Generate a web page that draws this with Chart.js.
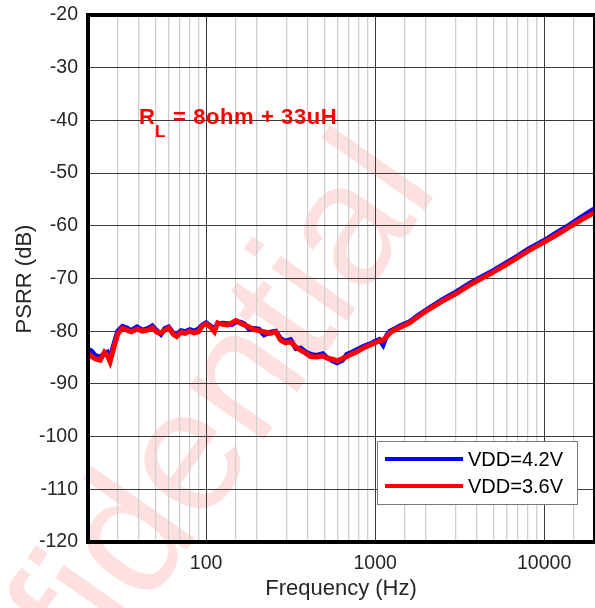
<!DOCTYPE html>
<html>
<head>
<meta charset="utf-8">
<script src="https://cdn.jsdelivr.net/npm/chart.js@4"></script>
<style>
  html, body { margin: 0; padding: 0; background: #fff; }
  #wrap { width: 595px; height: 608px; }
</style>
</head>
<body>
<div id="wrap"><canvas id="psrr" width="595" height="608"></canvas></div>
<script>
// ── 資料 ──────────────────────────────
const FREQ_HZ = [
  20, 21, 22, 23.6, 25, 26, 27, 28.5, 30, 32, 34, 36, 39, 42, 45, 48, 51, 54, 57, 60,
  64, 67, 71, 75, 80, 85, 90, 95, 100, 106, 112, 117, 125, 134, 142, 150, 160, 168, 180, 192,
  205, 220, 241, 258, 276, 295, 316, 340, 362, 390, 415, 450, 490, 520, 560, 596, 640, 681, 730, 780,
  850, 935, 1000, 1060, 1114, 1170, 1225, 1300, 1400, 1600, 1800, 2023, 2500, 3034, 3600, 4150, 5000, 6000, 7000, 8000,
  10000, 12000, 14000, 16500, 20000
];

const PSRR_VDD42 = [
  -83.4, -83.8, -84.6, -84.9, -84.3, -84.0, -85.2, -82.4, -80.0, -79.1, -79.4, -79.9, -79.2, -79.8, -79.5, -79.0, -79.9, -80.6, -79.5, -79.2,
  -80.4, -80.6, -79.9, -80.1, -79.7, -80.0, -79.6, -78.8, -78.4, -79.0, -79.6, -78.6, -78.5, -78.6, -78.7, -78.2, -78.3, -78.6, -79.6, -79.5,
  -79.6, -80.7, -80.2, -80.0, -81.4, -81.9, -81.6, -83.3, -83.2, -84.0, -84.4, -84.6, -84.3, -85.0, -85.6, -86.0, -85.5, -84.4, -84.0, -83.5,
  -82.9, -82.4, -81.9, -81.6, -82.6, -80.8, -80.0, -79.6, -79.0, -78.2, -77.0, -75.9, -74.0, -72.5, -71.0, -69.9, -68.5, -67.0, -65.7, -64.5,
  -62.8, -61.2, -59.9, -58.4, -56.7
];

const PSRR_VDD36 = [
  -84.2, -84.8, -85.2, -85.5, -84.0, -84.6, -85.8, -83.0, -80.5, -79.4, -79.8, -80.1, -79.6, -80.0, -79.8, -79.3, -80.2, -80.3, -79.8, -79.4,
  -80.6, -81.0, -80.2, -80.4, -80.0, -80.3, -80.1, -79.0, -78.6, -79.2, -80.1, -78.4, -78.7, -78.8, -78.4, -78.0, -78.5, -78.8, -79.2, -79.7,
  -79.9, -80.1, -80.4, -80.1, -81.7, -82.2, -82.0, -83.0, -83.6, -84.2, -84.8, -84.9, -84.7, -85.1, -85.3, -85.6, -85.2, -84.8, -84.3, -83.9,
  -83.2, -82.6, -82.2, -81.8, -81.7, -81.0, -80.3, -79.8, -79.3, -78.4, -77.2, -76.1, -74.3, -72.8, -71.3, -70.2, -68.8, -67.3, -66.0, -64.8,
  -63.1, -61.6, -60.3, -58.9, -57.4
];

const SERIES_LABELS = ["VDD=4.2V", "VDD=3.6V"];
const X_TICK_LABELS = [100, 1000, 10000];
const Y_TICKS = [-120, -110, -100, -90, -80, -70, -60, -50, -40, -30, -20];

const COLORS = {
  blue: "#0000FF",
  red: "#FF0000",
  major: "#3a3a3a",
  minor: "#cfcfcf",
};

const FONT = "Arial, 'Liberation Sans', sans-serif";

const isDecade = v => {
  const l = Math.log10(v);
  return Math.abs(l - Math.round(l)) < 1e-9;
};

const noPad = s => {
  s.paddingLeft = 0;
  s.paddingRight = 0;
  s.paddingTop = 0;
  s.paddingBottom = 0;
};

// ── 外框、標題、註解、圖例、浮水印 ──────────────
const decorPlugin = {
  id: "decor",
  beforeDraw(chart) {
    const { ctx } = chart;
    ctx.save();
    ctx.fillStyle = "#fff";
    ctx.fillRect(0, 0, chart.width, chart.height);
    // 浮水印
    ctx.translate(440, 188);
    ctx.rotate(-55 * Math.PI / 180);
    ctx.font = "174px " + FONT;
    ctx.fillStyle = "rgba(255, 0, 0, 0.12)";
    ctx.textAlign = "right";
    ctx.textBaseline = "alphabetic";
    ctx.fillText("Confidential", 0, 0);
    ctx.restore();
  },
  afterDraw(chart) {
    const { ctx, chartArea: a } = chart;
    ctx.save();

    // 外框
    ctx.strokeStyle = "#000";
    ctx.lineWidth = 4;
    ctx.strokeRect(a.left, a.top, a.right - a.left, a.bottom - a.top);

    // 軸標題
    ctx.fillStyle = "#262626";
    ctx.font = "22px " + FONT;
    ctx.textAlign = "center";
    ctx.textBaseline = "middle";
    ctx.fillText("Frequency (Hz)", 341, 589);
    ctx.save();
    ctx.translate(25, 279);
    ctx.rotate(-Math.PI / 2);
    ctx.fillText("PSRR (dB)", 0, 0);
    ctx.restore();

    // 註解 R_L
    ctx.fillStyle = COLORS.red;
    ctx.textAlign = "left";
    ctx.textBaseline = "alphabetic";
    ctx.letterSpacing = "0.6px";
    ctx.font = "bold 22px " + FONT;
    ctx.fillText("R", 139, 124);
    ctx.font = "bold 17px " + FONT;
    ctx.fillText("L", 155, 137);
    ctx.font = "bold 22px " + FONT;
    ctx.fillText("= 8ohm + 33uH", 173, 124);
    ctx.letterSpacing = "0px";

    // 圖例
    const lx = 377, ly = 441, lw = 200, lh = 63;
    ctx.fillStyle = "#fff";
    ctx.fillRect(lx, ly, lw, lh);
    ctx.strokeStyle = "#7a7a7a";
    ctx.lineWidth = 1;
    ctx.strokeRect(lx + 0.5, ly + 0.5, lw, lh);
    chart.data.datasets.slice().sort((p, q) => p.legendIndex - q.legendIndex).forEach((ds, i) => {
      const y = ly + 18 + i * 27;
      ctx.strokeStyle = ds.borderColor;
      ctx.lineWidth = 4;
      ctx.beginPath();
      ctx.moveTo(lx + 8, y);
      ctx.lineTo(lx + 86, y);
      ctx.stroke();
      ctx.fillStyle = "#000";
      ctx.font = "20px " + FONT;
      ctx.textBaseline = "middle";
      ctx.fillText(ds.label, lx + 91, y + 1);
    });

    ctx.restore();
  },
};

const ctx = document.getElementById("psrr").getContext("2d");

new Chart(ctx, {
  type: "line",
  data: {
    datasets: [
      {
        label: SERIES_LABELS[0],
        legendIndex: 0,
        data: FREQ_HZ.map((f, i) => ({ x: f, y: PSRR_VDD42[i] })),
        borderColor: COLORS.blue,
        borderWidth: 5,
        pointRadius: 0,
        tension: 0,
        fill: false,
        order: 1,
      },
      {
        label: SERIES_LABELS[1],
        legendIndex: 1,
        data: FREQ_HZ.map((f, i) => ({ x: f, y: PSRR_VDD36[i] })),
        borderColor: COLORS.red,
        borderWidth: 5,
        pointRadius: 0,
        tension: 0,
        fill: false,
        order: 0,
      },
    ],
  },
  options: {
    responsive: false,
    animation: false,
    events: [],
    layout: { padding: { top: 15, right: 0, left: 0, bottom: 0 } },
    plugins: {
      legend: { display: false },
      tooltip: { enabled: false },
    },
    scales: {
      x: {
        type: "logarithmic",
        min: 20,
        max: 20000,
        afterFit: s => { s.height = 66; noPad(s); },
        border: { display: false },
        grid: {
          color: c => (c.tick && isDecade(c.tick.value) ? COLORS.major : COLORS.minor),
          lineWidth: c => (c.tick && isDecade(c.tick.value) ? 1 : 1.3),
          drawTicks: false,
        },
        ticks: {
          autoSkip: false,
          maxRotation: 0,
          padding: 10,
          color: "#262626",
          font: { family: FONT, size: 19.5 },
          callback: v => (X_TICK_LABELS.includes(v) ? String(v) : ""),
        },
      },
      y: {
        min: Y_TICKS[0],
        max: Y_TICKS[Y_TICKS.length - 1],
        afterFit: s => { s.width = 88; noPad(s); },
        afterBuildTicks: s => { s.ticks = Y_TICKS.map(v => ({ value: v })); },
        border: { display: false },
        grid: {
          color: COLORS.major,
          lineWidth: 1,
          drawTicks: false,
        },
        ticks: {
          padding: 10,
          color: "#262626",
          font: { family: FONT, size: 19.5 },
        },
      },
    },
  },
  plugins: [decorPlugin],
});
</script>
</body>
</html>
